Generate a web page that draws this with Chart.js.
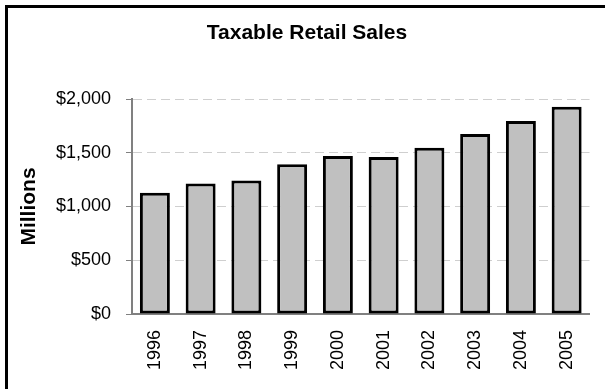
<!DOCTYPE html>
<html>
<head>
<meta charset="utf-8">
<title>Taxable Retail Sales</title>
<script src="https://cdn.jsdelivr.net/npm/chart.js@4.4.1/dist/chart.umd.min.js"></script>
<style>
  html, body { margin: 0; padding: 0; background: #fff; }
  #wrap { width: 605px; height: 389px; }
</style>
</head>
<body>
<div id="wrap"><canvas id="grafico" width="605" height="389"></canvas></div>
<script>
// datos
const years = ["1996", "1997", "1998", "1999", "2000", "2001", "2002", "2003", "2004", "2005"];
const sales = [1127, 1215, 1243, 1392, 1469, 1460, 1547, 1674, 1795, 1929];
const yTicks = [0, 500, 1000, 1500, 2000];
const chartTitle = "Taxable Retail Sales";

const FONT = 'Arial, "Liberation Sans", sans-serif';

// marco negro, fondo blanco y titulo
const marco = {
    id: "marco",
    beforeDraw(chart) {
        const ctx = chart.ctx;
        ctx.save();
        ctx.fillStyle = "#fff";
        ctx.fillRect(0, 0, chart.width, chart.height);
        ctx.strokeStyle = "#000";
        ctx.lineWidth = 3;
        ctx.beginPath();
        ctx.moveTo(6.5, chart.height + 5);
        ctx.lineTo(6.5, 6.5);
        ctx.lineTo(chart.width + 5, 6.5);
        ctx.stroke();
        ctx.restore();
    },
    afterDraw(chart) {
        const ctx = chart.ctx;
        ctx.save();
        ctx.fillStyle = "#000";
        ctx.font = "bold 21px " + FONT;
        ctx.textAlign = "center";
        ctx.textBaseline = "alphabetic";
        ctx.fillText(chartTitle, 307, 39);
        ctx.restore();
    }
};

const ctx = document.getElementById("grafico").getContext("2d");
new Chart(ctx, {
    type: "bar",
    data: {
        labels: years,
        datasets: [{
            label: chartTitle,
            data: sales,
            backgroundColor: "#c0c0c0",
            borderColor: "#000",
            borderWidth: 3,
            borderSkipped: false,
            categoryPercentage: 1,
            barPercentage: 0.655
        }]
    },
    options: {
        responsive: false,
        animation: false,
        layout: { padding: { left: 0, right: 15, top: 99, bottom: 0 } },
        plugins: {
            legend: { display: false },
            tooltip: { enabled: false },
            title: { display: false }
        },
        scales: {
            x: {
                grid: { display: false, drawTicks: false },
                border: { display: true, color: "#808080", width: 2 },
                ticks: {
                    color: "#000",
                    font: { family: FONT, size: 18 },
                    minRotation: 90,
                    maxRotation: 90,
                    autoSkip: false,
                    padding: 16
                },
                afterFit: s => { s.height = 75; }
            },
            y: {
                min: 0,
                max: 2000,
                afterBuildTicks: s => { s.ticks = yTicks.map(v => ({ value: v })); },
                grid: {
                    color: c => c.tick && c.tick.value === 0 ? "rgba(0,0,0,0)" : "#cfcfcf",
                    lineWidth: 1,
                    tickColor: "#808080",
                    tickLength: 6
                },
                border: { display: true, color: "#808080", width: 2, dash: [9, 5] },
                ticks: {
                    color: "#000",
                    font: { family: FONT, size: 18 },
                    padding: 15,
                    callback: v => "$" + v.toLocaleString("en-US")
                },
                title: {
                    display: true,
                    text: "Millions",
                    color: "#000",
                    font: { family: FONT, size: 21, weight: "bold" },
                    padding: { top: 17, bottom: 0 }
                },
                afterFit: s => { s.width = 132; }
            }
        }
    },
    plugins: [marco]
});
</script>
</body>
</html>
